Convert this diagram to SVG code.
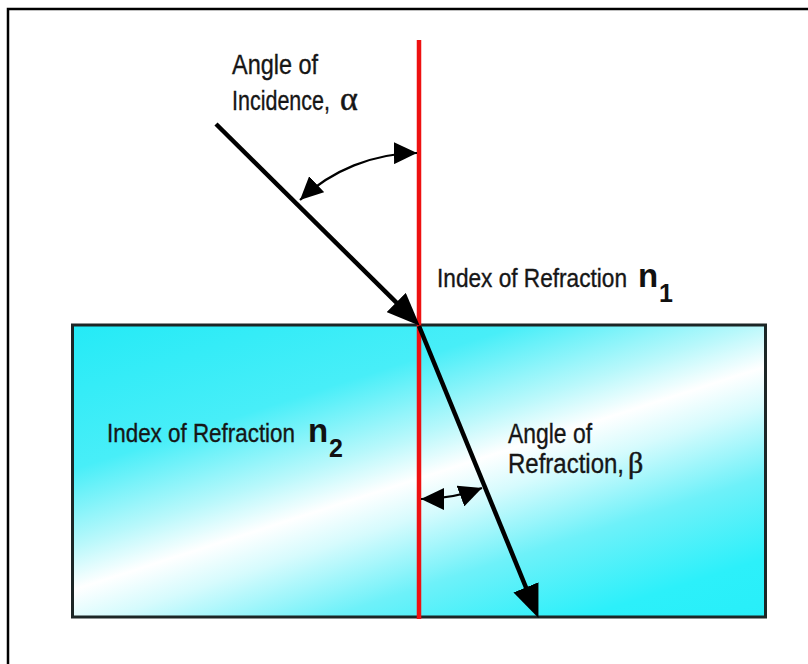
<svg xmlns="http://www.w3.org/2000/svg" width="808" height="664" viewBox="0 0 808 664">
  <style>
    .lbl { font-family: "Liberation Sans", Arial, sans-serif; fill: #161616; stroke: #161616; stroke-width: 0.35; }
    .sym { font-family: "Liberation Serif", "Times New Roman", serif; stroke-width: 0.5; }
    .bold { font-weight: bold; stroke-width: 0; fill: #111; }
    .ray { stroke: #000; stroke-width: 4.5; fill: none; }
    .arc { stroke: #000; stroke-width: 2.2; fill: none; }
  </style>
  <defs>
    <linearGradient id="glass" gradientUnits="userSpaceOnUse" x1="340" y1="230" x2="500" y2="726">
      <stop offset="0" stop-color="#22eaf6"/>
      <stop offset="0.28" stop-color="#48eef8"/>
      <stop offset="0.42" stop-color="#b8f8fb"/>
      <stop offset="0.5" stop-color="#ffffff"/>
      <stop offset="0.57" stop-color="#d6fbfd"/>
      <stop offset="0.7" stop-color="#6ef1f9"/>
      <stop offset="0.85" stop-color="#2cf0fa"/>
      <stop offset="1" stop-color="#26eef8"/>
    </linearGradient>
    <marker id="big" viewBox="0 0 33 27" refX="12" refY="13.5" markerWidth="33" markerHeight="27" markerUnits="userSpaceOnUse" orient="auto">
      <path d="M0,0 L33,13.5 L0,27 z" fill="#000"/>
    </marker>
    <marker id="small" viewBox="0 0 23 22" refX="23" refY="11" markerWidth="23" markerHeight="22" markerUnits="userSpaceOnUse" orient="auto-start-reverse">
      <path d="M0,0 L23,11 L0,22 z" fill="#000"/>
    </marker>
  </defs>

  <rect width="808" height="664" fill="#fff"/>
  <path d="M8,664 V9 H808" fill="none" stroke="#000" stroke-width="2.5"/>

  <g id="medium">
    <rect x="72.5" y="325" width="693" height="292" fill="url(#glass)" stroke="#1c2626" stroke-width="3"/>
  </g>

  <g id="normal">
    <line x1="419" y1="40" x2="419" y2="619" stroke="#ee1111" stroke-width="4.5"/>
  </g>

  <g id="connectors">
    <line class="ray" x1="216" y1="124" x2="404.8" y2="310.9" marker-end="url(#big)"/>
    <line class="ray" x1="419" y1="326" x2="530.5" y2="598.5" marker-end="url(#big)"/>
    <path class="arc" d="M300,200 A172 172 0 0 1 417,153" marker-start="url(#small)" marker-end="url(#small)"/>
    <path class="arc" d="M421,499 A174 174 0 0 0 482,488" marker-start="url(#small)" marker-end="url(#small)"/>
  </g>

  <g id="label-incidence">
    <text class="lbl" x="232" y="74" font-size="27" textLength="86" lengthAdjust="spacingAndGlyphs">Angle of</text>
    <text class="lbl" font-size="27"><tspan x="232" y="110" textLength="98" lengthAdjust="spacingAndGlyphs">Incidence,</tspan><tspan class="sym" x="340" y="110" font-size="34">α</tspan></text>
  </g>

  <g id="label-n1">
    <text class="lbl" font-size="25"><tspan x="437" y="287" textLength="190" lengthAdjust="spacingAndGlyphs">Index of Refraction</tspan><tspan class="bold" x="638" y="287" font-size="33">n</tspan><tspan class="bold" x="659" y="302" font-size="25">1</tspan></text>
  </g>

  <g id="label-n2">
    <text class="lbl" font-size="25"><tspan x="107" y="442" textLength="188" lengthAdjust="spacingAndGlyphs">Index of Refraction</tspan><tspan class="bold" x="308" y="442" font-size="33">n</tspan><tspan class="bold" x="329" y="457" font-size="25">2</tspan></text>
  </g>

  <g id="label-refraction">
    <text class="lbl" x="508" y="443" font-size="27" textLength="84" lengthAdjust="spacingAndGlyphs">Angle of</text>
    <text class="lbl" font-size="27"><tspan x="508" y="473" textLength="116" lengthAdjust="spacingAndGlyphs">Refraction,</tspan><tspan class="sym" x="628" y="473" font-size="30">β</tspan></text>
  </g>
</svg>
